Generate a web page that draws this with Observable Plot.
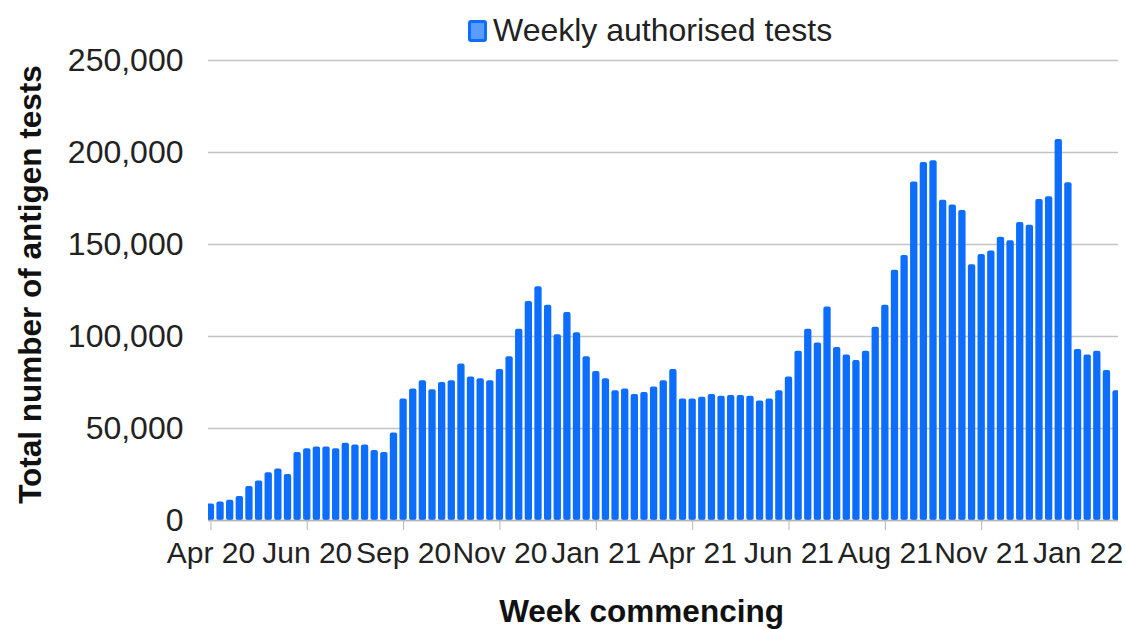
<!DOCTYPE html>
<html><head><meta charset="utf-8">
<script src="https://cdn.jsdelivr.net/npm/d3@7"></script>
<script src="https://cdn.jsdelivr.net/npm/@observablehq/plot@0.6"></script>
<style>
body{margin:0;background:#fff;}
#wrap{position:relative;width:1126px;height:629px;overflow:hidden;font-family:Arial,"Liberation Sans",sans-serif;}
#legend{position:absolute;top:12px;left:468px;display:flex;align-items:center;font-size:32px;color:#222;z-index:2;}
.sw{width:13px;height:16px;background:#5a9cff;border:3px solid #0d6efd;border-radius:3px;margin-right:6px;}
</style></head><body><div id="wrap"><div id="legend"><div class="sw"></div><span>Weekly authorised tests</span></div></div>
<script>
const values = [9000,10000,11000,13000,18500,21500,26000,28000,25000,37000,
39000,40000,40000,39000,42000,41000,41000,38000,37000,47500,
66000,71500,76000,71000,75000,76000,85000,78000,77000,76000,
82000,89000,104000,119000,127000,117000,101000,113000,102000,89000,
81000,77000,70500,71500,68500,69500,72500,76000,82000,66000,
66000,67000,68500,67500,68000,68000,67500,65000,66000,70500,
78000,92000,104000,96500,116000,94000,90000,87000,92000,105000,
117000,136000,144000,184000,194500,195500,174000,171500,168500,139000,
144500,146500,154000,152000,162000,160500,174500,176000,207000,183500,
93000,90000,92000,81500,70500];
const xTickIndex = [0,10,20,30,40,50,60,70,80,90];
const xTickLabels = ["Apr 20","Jun 20","Sep 20","Nov 20","Jan 21","Apr 21","Jun 21","Aug 21","Nov 21","Jan 22"];
const yTicks = [0,50000,100000,150000,200000,250000];
const seriesName = "Weekly authorised tests";
const yTitle = "Total number of antigen tests";
const xTitle = "Week commencing";

const data = values.map((v, i) => ({i, v}));
const font = 'Arial, "Liberation Sans", sans-serif';
const chart = Plot.plot({
  width: 1126, height: 629,
  marginTop: 60, marginBottom: 109, marginLeft: 208, marginRight: 8,
  style: {fontFamily: font, background: "white", color: "#222"},
  x: {type: "linear", domain: [-0.25, 94.2]},
  y: {domain: [0, 250000]},
  marks: [
    Plot.gridY(yTicks, {stroke: "#c4c4c4", strokeOpacity: 1, strokeWidth: 1.5}),
    Plot.rectY(data, {x1: d => d.i - 0.38, x2: d => d.i + 0.38, y: "v", fill: "#0d6efd", rx: 2, clip: true}),
    Plot.ruleY([0], {stroke: "#b5b5b5", strokeWidth: 1.5}),
    Plot.axisY({ticks: yTicks, tickSize: 0, tickPadding: 25, tickFormat: d3.format(","), fontSize: 32, label: null, fill: "#222"}),
    Plot.axisX({ticks: xTickIndex, tickSize: 10, tickPadding: 11, tickFormat: d => xTickLabels[xTickIndex.indexOf(d)], fontSize: 30, label: null, stroke: "#b5b5b5", fill: "#222"}),
    Plot.text([yTitle], {text: d => d, frameAnchor: "left", textAnchor: "middle", lineAnchor: "middle", dx: -178, dy: -6, rotate: -90, fontWeight: "bold", fontSize: 31.5, fill: "#111"}),
    Plot.text([xTitle], {text: d => d, frameAnchor: "bottom", textAnchor: "middle", lineAnchor: "middle", dy: 91, dx: -22, fontWeight: "bold", fontSize: 31.5, fill: "#111"})
  ]
});
document.getElementById("wrap").appendChild(chart);
chart.style.position = "absolute";
chart.style.left = "0";
chart.style.top = "0";
</script></body></html>
